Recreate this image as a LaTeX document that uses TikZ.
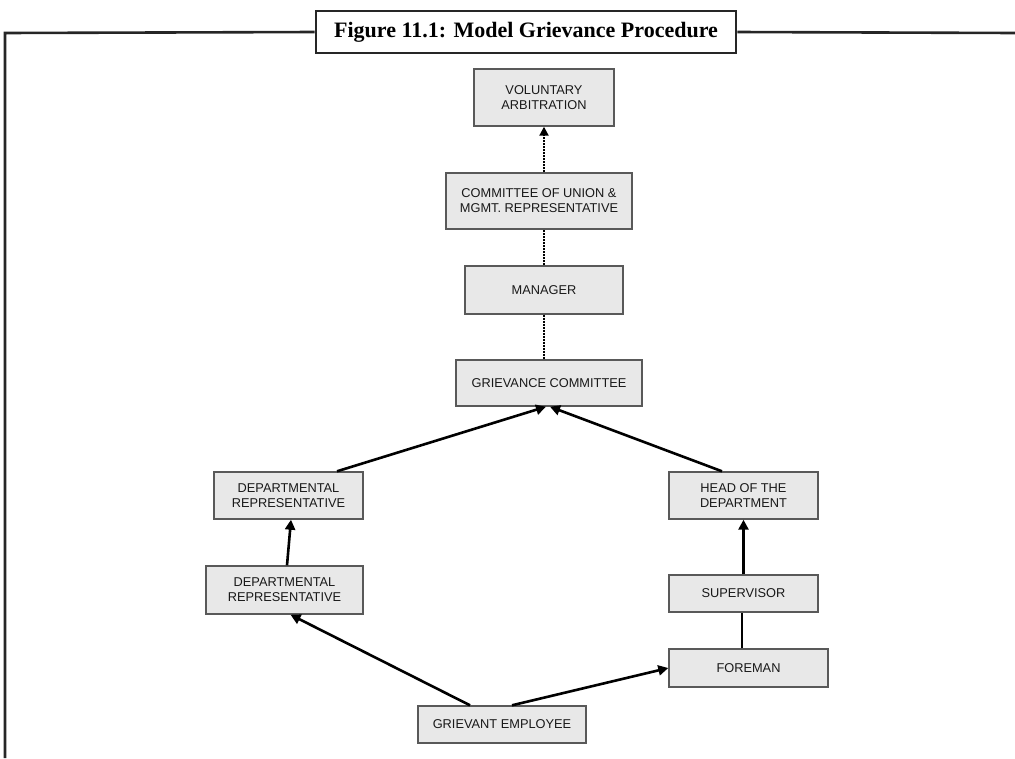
\documentclass[tikz,border=0pt]{standalone}
\usepackage{fontspec}
\setmainfont{Liberation Serif}
\newfontfamily\boxfont{Liberation Sans}
\usetikzlibrary{arrows.meta}
\begin{document}
\begin{tikzpicture}[x=1pt,y=-1pt,
  stagebox/.style={draw=black!65, line width=1.4pt, fill=black!9, inner sep=0pt,
    align=center, font=\boxfont\fontsize{12.8}{15}\selectfont, text=black!90},
  conn/.style={line width=2.6pt, black},
  arr/.style={conn, -{Triangle[length=10pt,width=10pt]}},
  dots/.style={line width=2pt, densely dotted, black}]
\useasboundingbox (0,0) rectangle (1015,758);
% title and frame
\node[draw=black!85, line width=2.6pt, fill=white, minimum width=420pt, minimum height=42pt, inner sep=0pt,
  font=\bfseries\fontsize{22}{26}\selectfont] (title) at (526,32) {Figure 11.1: Model Grievance Procedure};
\coordinate (fbl) at (5,758);
\coordinate (ftl) at (5,33);
\coordinate (ftr) at (1015,33);
\draw[line width=2.6pt, black!85] (fbl) -- (ftl) -- (title.west);
\draw[line width=2.6pt, black!85] (title.east) -- (ftr);
% boxes
\node[stagebox, minimum width=140pt, minimum height=57pt] (va) at (544,97.5) {VOLUNTARY\\ARBITRATION};
\node[stagebox, minimum width=186pt, minimum height=56pt] (cu) at (539,201) {COMMITTEE OF UNION \&\\MGMT. REPRESENTATIVE};
\node[stagebox, minimum width=158pt, minimum height=48pt] (mg) at (544,290) {MANAGER};
\node[stagebox, minimum width=186pt, minimum height=46pt] (gc) at (549,383) {GRIEVANCE COMMITTEE};
\node[stagebox, minimum width=149pt, minimum height=47pt] (dra) at (288.5,495.5) {DEPARTMENTAL\\REPRESENTATIVE};
\node[stagebox, minimum width=157pt, minimum height=48pt] (drb) at (284.5,590) {DEPARTMENTAL\\REPRESENTATIVE};
\node[stagebox, minimum width=149pt, minimum height=47pt] (hd) at (743.5,495.5) {HEAD OF THE\\DEPARTMENT};
\node[stagebox, minimum width=149pt, minimum height=37pt] (sv) at (743.5,593.5) {SUPERVISOR};
\node[stagebox, minimum width=159pt, minimum height=38pt] (fm) at (748.5,668) {FOREMAN};
\node[stagebox, minimum width=168pt, minimum height=37pt] (ge) at (502,724.5) {GRIEVANT EMPLOYEE};
% connectors
\draw[dots, -{Triangle[length=9pt,width=9pt]}] (va.south |- cu.north) -- (va.south);
\draw[dots] (mg.north) -- (va.south |- cu.south);
\draw[dots] (mg.south) -- (mg.south |- gc.north);
\draw[arr] ([xshift=48.5pt]dra.north) -- ([xshift=-3pt]gc.south);
\draw[arr] ([xshift=-21.5pt]hd.north) -- ([xshift=1pt]gc.south);
\draw[arr] ([xshift=2.5pt]drb.north) -- ([xshift=2.5pt]dra.south);
\draw[arr] ([xshift=-32pt]ge.north) -- ([xshift=6pt]drb.south);
\draw[arr] ([xshift=10pt]ge.north) -- (fm.west);
\draw[arr] (sv.north) -- (hd.south);
\draw[conn] ([xshift=-6.5pt]fm.north) -- ([xshift=-1.5pt]sv.south);
\end{tikzpicture}
\end{document}
